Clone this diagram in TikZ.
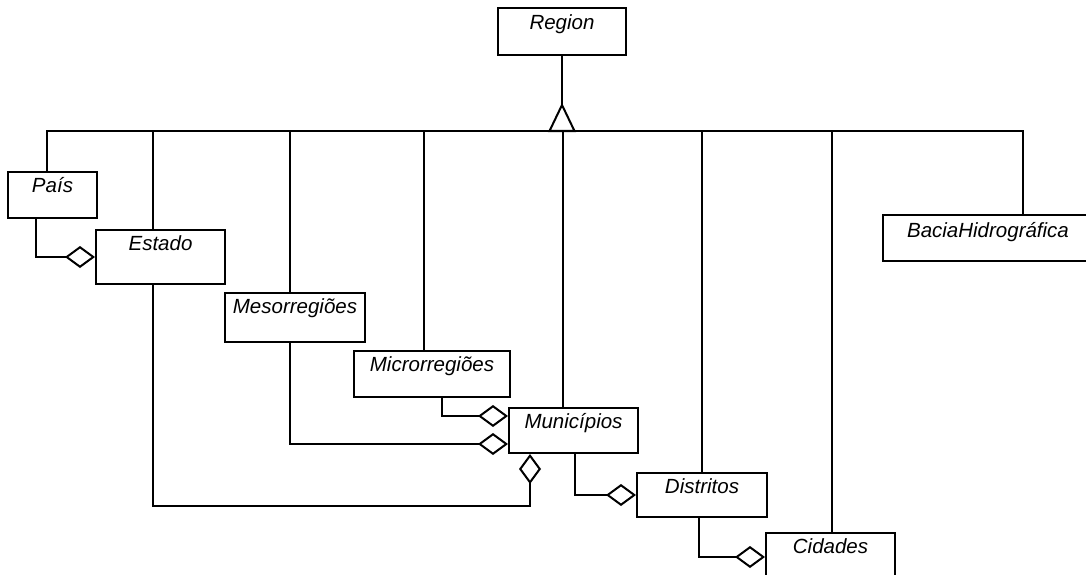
\documentclass[tikz,border=0pt]{standalone}
\usepackage{fontspec}
\setmainfont{Liberation Sans}
\usetikzlibrary{arrows.meta,calc}
\tikzset{
  cls/.style={draw, line width=2pt, inner sep=0pt, text height=20pt,
    font=\fontsize{20.5}{24}\selectfont\itshape},
  link/.style={line width=2pt},
  agg/.style={link, -{Diamond[fill=white, length=30pt, width=22pt, line join=miter]}},
}
\begin{document}
\begin{tikzpicture}[x=1pt,y=-1pt]
\useasboundingbox (0,0) rectangle (1086,575);

% classes
\node[cls, minimum width=128pt, text height=22pt, text depth=25pt] (Region) at (562,31.5) {Region};
\node[cls, minimum width=89pt,  text depth=26pt] (Pais)   at (52.5,195)  {País};
\node[cls, minimum width=129pt, text depth=34pt] (Estado) at (160.5,257) {Estado};
\node[cls, minimum width=140pt, text depth=29pt] (Meso)   at (295,317.5) {Mesorregiões};
\node[cls, minimum width=156pt, text depth=26pt] (Micro)  at (432,374)   {Microrregiões};
\node[cls, minimum width=129pt, text depth=25pt] (Mun)    at (573.5,430.5) {Municípios};
\node[cls, minimum width=130pt, text depth=24pt] (Dist)   at (702,495)   {Distritos};
\node[cls, minimum width=129pt, text depth=30pt] (Cid)    at (830.5,558) {Cidades};
\node[cls, minimum width=210pt, text height=22pt, text depth=24pt] (Bacia) at (988,238) {BaciaHidrográfica};

% generalization bus
\coordinate (bus) at (0,131);
\coordinate (pT)  at ([xshift=-5.5pt]Pais.north);
\coordinate (bT)  at ([xshift=35pt]Bacia.north);
\coordinate (eT)  at ([xshift=-7.5pt]Estado.north);
\coordinate (msT) at ([xshift=-5pt]Meso.north);
\coordinate (miT) at ([xshift=-8pt]Micro.north);
\coordinate (mnT) at ([xshift=-10.5pt]Mun.north);
\coordinate (dT)  at (Dist.north);
\coordinate (cT)  at ([xshift=1.5pt]Cid.north);

\draw[link] (pT) -- (pT |- bus) -- (bT |- bus) -- (bT);
\foreach \c in {eT,msT,miT,mnT,dT,cT}
  \draw[link] (\c |- bus) -- (\c);

% inheritance triangle under Region
\coordinate (gen) at (Region.south |- bus);
\draw[link] (Region.south) -- ($(gen)+(0,-26)$);
\draw[link, fill=white, line join=miter]
  ($(gen)+(-12.5,0)$) -- ($(gen)+(0,-26)$) -- ($(gen)+(12.5,0)$) -- cycle;

% aggregations
\coordinate (pB)  at ([xshift=-16.5pt]Pais.south);
\coordinate (msB) at ([xshift=-5pt]Meso.south);
\coordinate (miB) at ([xshift=10pt]Micro.south);
\coordinate (eB)  at ([xshift=-7.5pt]Estado.south);
\coordinate (mnB) at ([xshift=-43.5pt]Mun.south);
\coordinate (mnD) at ([xshift=1.5pt]Mun.south);
\coordinate (dB)  at ([xshift=-3pt]Dist.south);

\draw[agg] (pB) |- (Estado.west);
\draw[agg] (miB) |- ([yshift=-9pt]Mun.north west);
\draw[agg] (msB) |- ([yshift=10pt]Mun.south west);
\draw[agg] (eB) -- ++(0,221) -| (mnB);
\draw[agg] (mnD) |- (Dist.west);
\draw[agg] (dB) |- ([yshift=-25pt]Cid.north west);
\end{tikzpicture}
\end{document}
